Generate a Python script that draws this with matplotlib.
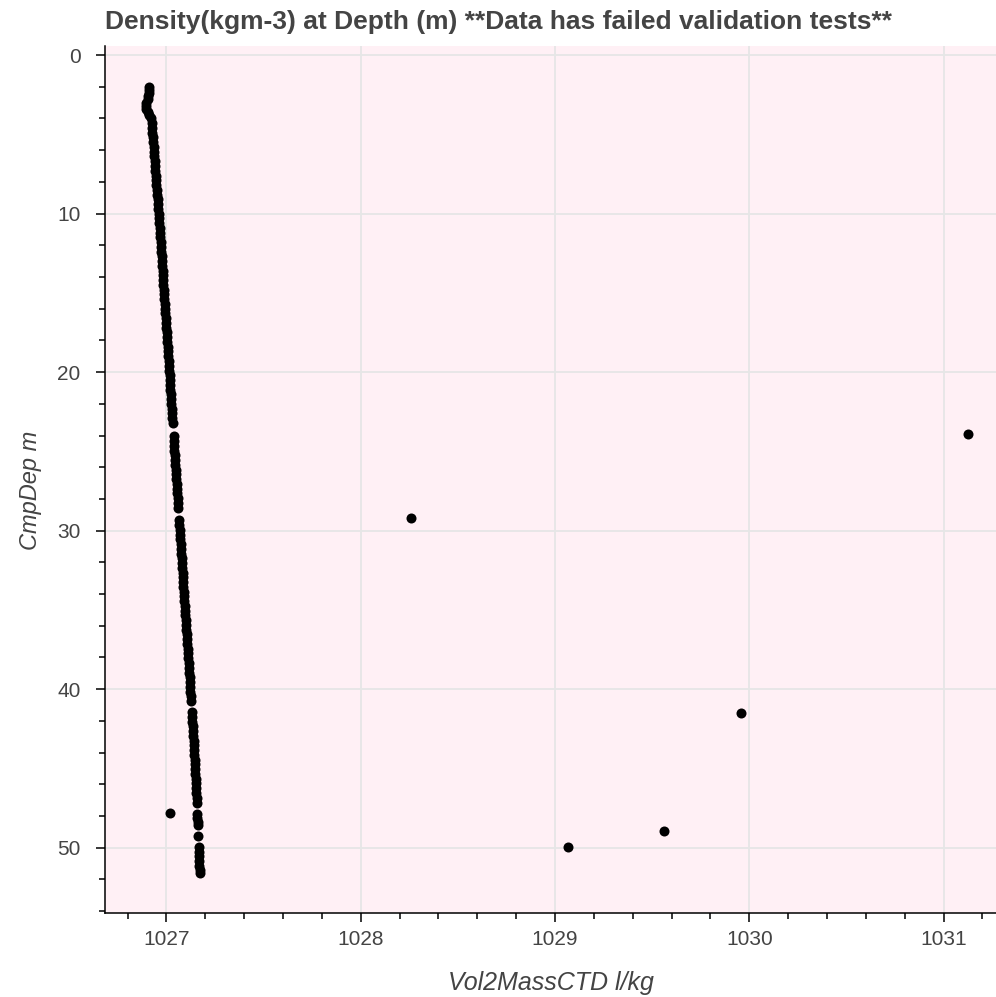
import matplotlib
matplotlib.use("Agg")
import matplotlib.pyplot as plt
from matplotlib.ticker import MultipleLocator

# ---- data ----
profile_depth = [
    2.0, 2.2, 2.4, 2.6, 2.8, 3.0, 3.2, 3.4, 3.6, 3.8, 4.0, 4.3, 4.6, 4.9, 5.2, 5.5,
    5.8, 6.1, 6.4, 6.7, 7.0, 7.3, 7.6, 7.9, 8.2, 8.5, 8.8, 9.1, 9.4, 9.7, 10.0,
    10.3, 10.6, 10.9, 11.2, 11.5, 11.8, 12.1, 12.4, 12.7, 13.0, 13.3, 13.6, 13.9,
    14.2, 14.5, 14.8, 15.1, 15.4, 15.7, 16.0, 16.3, 16.6, 16.9, 17.2, 17.5, 17.8,
    18.1, 18.4, 18.7, 19.0, 19.3, 19.6, 19.9, 20.2, 20.5, 20.8, 21.1, 21.4, 21.7,
    22.0, 22.3, 22.6, 22.9, 23.2,
    24.05, 24.35, 24.65, 24.95, 25.25, 25.55, 25.85, 26.15, 26.45, 26.75, 27.05,
    27.35, 27.65, 27.95, 28.25, 28.55,
    29.35, 29.65, 29.95, 30.25, 30.55, 30.85, 31.15, 31.45, 31.75, 32.05, 32.35,
    32.65, 32.95, 33.25, 33.55, 33.85, 34.15, 34.45, 34.75, 35.05, 35.35, 35.65,
    35.95, 36.25, 36.55, 36.85, 37.15, 37.45, 37.75, 38.05, 38.35, 38.65, 38.95,
    39.25, 39.55, 39.85, 40.15, 40.45, 40.75,
    41.45, 41.75, 42.05, 42.35, 42.65, 42.95, 43.25, 43.55, 43.85, 44.15, 44.45,
    44.75, 45.05, 45.35, 45.65, 45.95, 46.25, 46.55, 46.85, 47.15,
    47.85, 48.1, 48.35, 48.6,
    49.27,
    49.97, 50.25, 50.55, 50.85, 51.15, 51.4, 51.6,
]
profile_density = [
    1026.911, 1026.910, 1026.909, 1026.907, 1026.903, 1026.897, 1026.893, 1026.896,
    1026.904, 1026.912, 1026.919, 1026.924, 1026.926, 1026.928, 1026.930, 1026.932,
    1026.934, 1026.935, 1026.937, 1026.939, 1026.941, 1026.943, 1026.945, 1026.947,
    1026.949, 1026.951, 1026.953, 1026.955, 1026.957, 1026.959, 1026.961,
    1026.963, 1026.964, 1026.966, 1026.968, 1026.969, 1026.971, 1026.972, 1026.974,
    1026.976, 1026.977, 1026.979, 1026.981, 1026.982, 1026.984, 1026.985, 1026.987,
    1026.989, 1026.990, 1026.992, 1026.993, 1026.995, 1026.997, 1026.998, 1027.000,
    1027.002, 1027.003, 1027.005, 1027.006, 1027.008, 1027.010, 1027.011, 1027.013,
    1027.015, 1027.016, 1027.018, 1027.019, 1027.021, 1027.023, 1027.024, 1027.026,
    1027.027, 1027.029, 1027.031, 1027.032,
    1027.037, 1027.038, 1027.040, 1027.041, 1027.043, 1027.045, 1027.046, 1027.048,
    1027.050, 1027.051, 1027.053, 1027.055, 1027.056, 1027.058, 1027.060, 1027.061,
    1027.066, 1027.067, 1027.069, 1027.071, 1027.072, 1027.074, 1027.075, 1027.077,
    1027.079, 1027.080, 1027.082, 1027.083, 1027.085, 1027.087, 1027.088, 1027.090,
    1027.091, 1027.093, 1027.095, 1027.096, 1027.098, 1027.099, 1027.101, 1027.103,
    1027.104, 1027.106, 1027.107, 1027.109, 1027.110, 1027.112, 1027.114, 1027.115,
    1027.117, 1027.119, 1027.121, 1027.123, 1027.124, 1027.126, 1027.128,
    1027.131, 1027.133, 1027.134, 1027.136, 1027.137, 1027.138, 1027.140, 1027.141,
    1027.142, 1027.144, 1027.145, 1027.146, 1027.148, 1027.149, 1027.150, 1027.152,
    1027.153, 1027.154, 1027.155, 1027.157,
    1027.159, 1027.160, 1027.161, 1027.162,
    1027.164,
    1027.166, 1027.167, 1027.168, 1027.169, 1027.170, 1027.171, 1027.172,
]
outlier_density = [1027.021, 1028.258, 1031.124, 1029.065, 1029.561, 1029.960]
outlier_depth = [47.8, 29.23, 23.93, 49.95, 48.96, 41.5]

x_ticks = [1027, 1028, 1029, 1030, 1031]
y_ticks = [0, 10, 20, 30, 40, 50]

title = "Density(kgm-3) at Depth (m) **Data has failed validation tests**"
x_label = "Vol2MassCTD l/kg"
y_label = "CmpDep m"

# ---- figure ----
plt.rcParams['font.family'] = ['Liberation Sans', 'DejaVu Sans']
W, H = 996, 997
fig = plt.figure(figsize=(W / 100, H / 100), dpi=100)
ax = fig.add_axes([105 / W, (H - 913) / H, (W - 105) / W, (913 - 46) / H])
ax.set_facecolor('#fff0f5')

ax.scatter(profile_density, profile_depth, s=52, c='black', linewidths=0, zorder=3)
ax.scatter(outlier_density, outlier_depth, s=52, c='black', linewidths=0, zorder=3)

ax.set_xlim(1026.684, 1031.27)
ax.set_ylim(54.12, -0.57)

ax.set_xticks(x_ticks)
ax.set_yticks(y_ticks)
ax.xaxis.set_minor_locator(MultipleLocator(0.2))
ax.yaxis.set_minor_locator(MultipleLocator(2))

ax.grid(True, which='major', color='#e6e6e6', linewidth=1.3, zorder=0)
ax.set_axisbelow(True)

for s in ['top', 'right']:
    ax.spines[s].set_visible(False)
for s in ['left', 'bottom']:
    ax.spines[s].set_color('black')
    ax.spines[s].set_linewidth(1.1)

ax.tick_params(which='major', direction='out', length=6.5, width=1.1, color='black',
               labelsize=15, labelcolor='#444444')
ax.tick_params(axis='x', which='major', pad=6)
ax.tick_params(axis='y', which='major', pad=11)
ax.tick_params(which='minor', direction='out', length=4.3, width=1.1, color='black')

fig.text((105 + W) / 2 / W, 1 - 983 / H, x_label, fontsize=18, style='italic',
         color='#444444', ha='center', va='center')
fig.text(30 / W, 1 - 490 / H, y_label, fontsize=17, style='italic',
         color='#444444', ha='center', va='center', rotation=90)

fig.text(105 / W, 1 - 22 / H, title, fontsize=19, fontweight='bold', color='#444444',
         ha='left', va='center')

fig.savefig('out.png', dpi=100, facecolor='white')
